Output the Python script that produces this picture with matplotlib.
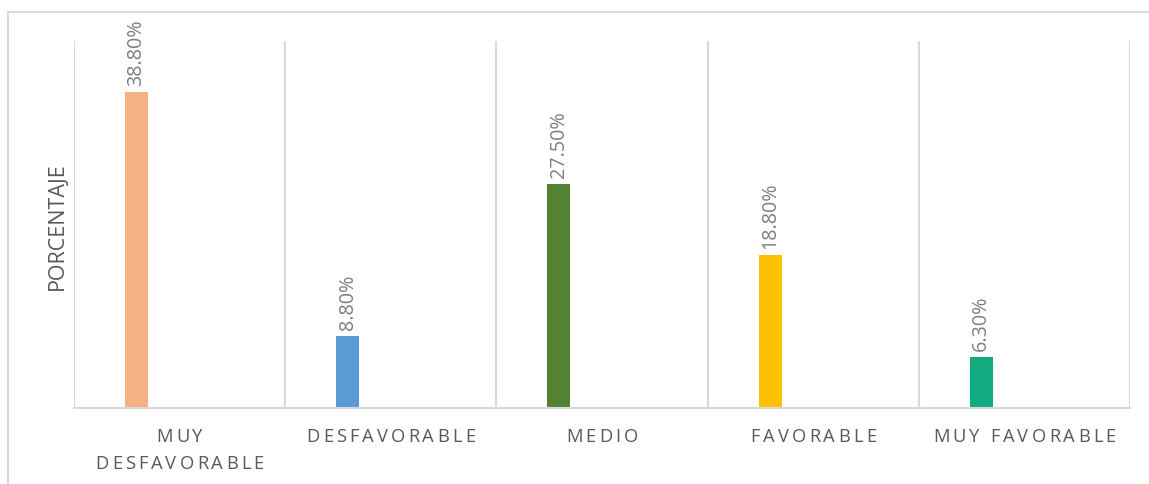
import matplotlib
matplotlib.use("Agg")
import matplotlib.pyplot as plt
from matplotlib.lines import Line2D
from matplotlib.font_manager import FontProperties, findfont
from matplotlib.ft2font import FT2Font

categories = [["MUY", "DESFAVORABLE"], ["DESFAVORABLE"], ["MEDIO"], ["FAVORABLE"], ["MUY FAVORABLE"]]
values = [38.8, 8.8, 27.5, 18.8, 6.3]
value_labels = ["38.80%", "8.80%", "27.50%", "18.80%", "6.30%"]
colors = ["#F4B183", "#5B9BD5", "#548235", "#FFC000", "#12AB80"]
y_title = "PORCENTAJE"

DPI = 100
W, H = 1149, 485
FONT = "Open Sans"
GRID = "#D9D9D9"

fig = plt.figure(figsize=(W / DPI, H / DPI), dpi=DPI)
fig.patch.set_facecolor("white")

# chart frame (top and left edges)
fig.add_artist(Line2D([8 / W, 1], [1 - 13 / H, 1 - 13 / H], color=GRID, lw=1.5, transform=fig.transFigure))
fig.add_artist(Line2D([8 / W, 8 / W], [0, 1 - 13 / H], color=GRID, lw=1.5, transform=fig.transFigure))

left, right, top, bottom = 74, 1130, 42, 409
ax = fig.add_axes([left / W, 1 - bottom / H, (right - left) / W, (bottom - top) / H])
ax.set_xlim(-0.5, len(values) - 0.5)
ax.set_ylim(0, 45)
for s in ("top", "left", "right"):
    ax.spines[s].set_visible(False)
ax.spines["bottom"].set_color(GRID)
ax.spines["bottom"].set_linewidth(1.5)
ax.set_xticks([])
ax.set_yticks([])

# vertical separators between categories
for b in range(len(values) + 1):
    ax.axvline(b - 0.5, color=GRID, lw=1.5, zorder=0)

bar_offset = 0.296
bar_width = 0.109
xs = [i - 0.5 + bar_offset for i in range(len(values))]
ax.bar(xs, values, width=bar_width, color=colors, zorder=2)

for x, v, lab in zip(xs, values, value_labels):
    ax.annotate(lab, xy=(x, v), xytext=(0, 5), textcoords="offset points",
                rotation=90, ha="center", va="bottom", fontsize=14.2,
                family=FONT, color="#7F7F7F")

# letter-spaced category labels
fp = FontProperties(family=FONT, size=13.2)
ft = FT2Font(findfont(fp))
ft.set_size(fp.get_size_in_points(), 72)


def advance(ch):
    g = ft.load_char(ord(ch))
    return g.linearHoriAdvance / 65536


tracking = 2.2  # points added between letters
line_offsets = [-20.5, -39.5]  # points below axis for each line
for i, lines in enumerate(categories):
    for li, text in enumerate(lines):
        advs = [advance(c) for c in text]
        total = sum(advs) + tracking * (len(text) - 1)
        pos = -total / 2
        for c, a in zip(text, advs):
            if c != " ":
                ax.annotate(c, xy=(i, 0), xycoords=("data", "axes fraction"),
                            xytext=(pos, line_offsets[li]), textcoords="offset points",
                            ha="left", va="center", fontproperties=fp,
                            color="#595959", annotation_clip=False)
            pos += a + tracking

fig.text(57 / W, 1 - 226 / H, y_title, rotation=90, ha="center", va="center",
         fontsize=15.5, family=FONT, color="#595959")

fig.savefig("out.png", dpi=DPI, facecolor="white")
